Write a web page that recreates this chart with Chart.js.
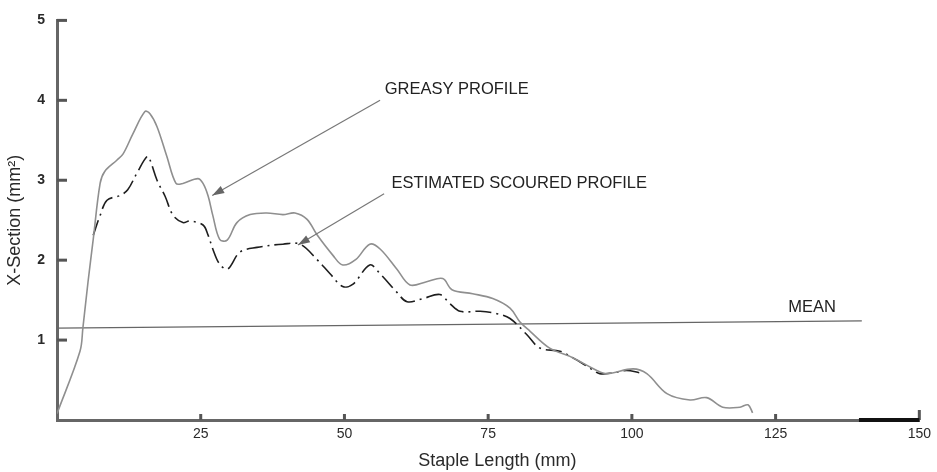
<!DOCTYPE html>
<html><head><meta charset="utf-8">
<script src="https://cdn.jsdelivr.net/npm/chart.js@4/dist/chart.umd.min.js"></script>
<style>html,body{margin:0;padding:0;background:#fff}#wrap{width:937px;height:472px}</style>
</head><body><div id="wrap"><canvas id="c"></canvas></div>
<script>
const greasyX = [0,4.0,4.5,5.4,6.3,7.5,8.3,10.4,11.5,13.2,15.3,16.2,17.4,19.1,20.7,21.9,24.5,25.4,26.3,27.1,28.3,29.6,31.3,33.6,36.5,39.3,41.4,43.5,45.2,48.0,49.7,52.0,54.4,56.2,59.1,61.4,64.3,67.1,68.7,72.3,75.8,78.8,80.5,82.3,85.7,89.7,93.9,95.7,100.2,102.6,106.1,110.1,113.0,115.8,118.8,120.2,121.0];
const greasyY = [0.08,0.86,1.15,1.73,2.26,2.96,3.11,3.25,3.33,3.58,3.86,3.83,3.67,3.30,2.96,2.96,3.02,2.96,2.80,2.56,2.26,2.25,2.47,2.57,2.59,2.57,2.59,2.51,2.32,2.06,1.94,2.01,2.20,2.14,1.89,1.69,1.73,1.77,1.63,1.58,1.52,1.40,1.23,1.11,0.90,0.78,0.62,0.58,0.64,0.58,0.33,0.25,0.28,0.16,0.16,0.19,0.09];
const scouredX = [6.3,7.5,8.7,11.0,12.3,13.9,15.7,16.2,17.4,18.8,20.2,21.9,23.1,25.4,26.3,27.1,28.3,29.7,31.8,34.8,39.3,42.3,45.2,47.5,49.7,51.5,54.4,56.2,59.1,60.9,63.7,66.6,68.3,70.1,73.6,76.5,78.8,81.7,84.0,87.5,89.7,92.7,94.4,96.7,99.1,101.4];
const scouredY = [2.31,2.56,2.75,2.81,2.88,3.09,3.30,3.25,3.00,2.80,2.56,2.47,2.49,2.44,2.31,2.14,1.95,1.89,2.10,2.16,2.20,2.20,2.01,1.83,1.67,1.70,1.94,1.83,1.60,1.48,1.52,1.57,1.46,1.36,1.36,1.33,1.27,1.07,0.90,0.86,0.78,0.65,0.58,0.59,0.62,0.59];
const meanX = [0,140];
const meanY = [1.15,1.24];
const xTicks = [25,50,75,100,125,150];
const yTicks = [1,2,3,4,5];
const labels = {greasy:'GREASY PROFILE', scoured:'ESTIMATED SCOURED PROFILE', mean:'MEAN', xTitle:'Staple Length (mm)'};

const FONT = '"Liberation Sans", Arial, sans-serif';
const toPts = (xs, ys) => xs.map((x,i)=>({x, y: ys[i]}));

const annot = {
  id:'annot',
  afterDatasetsDraw(chart){
    const {ctx, scales:{x,y}} = chart;
    const P = (a,b)=>[x.getPixelForValue(a), y.getPixelForValue(b)];
    ctx.save();
    // inward ticks
    ctx.strokeStyle='#555'; ctx.lineWidth=3;
    yTicks.forEach(v=>{const [px,py]=P(0,v); ctx.beginPath(); ctx.moveTo(px,py); ctx.lineTo(px+10,py); ctx.stroke();});
    xTicks.forEach(v=>{const [px,py]=P(v,0); ctx.beginPath(); ctx.moveTo(px,py); ctx.lineTo(px,py-(v===150?10:6)); ctx.stroke();});
    // dark right end of x axis
    ctx.strokeStyle='#111'; ctx.lineWidth=4;
    let [a1,b1]=P(139.5,0),[a2,b2]=P(150,0);
    ctx.beginPath(); ctx.moveTo(a1,b1); ctx.lineTo(a2,b2); ctx.stroke();
    // x axis title (slightly right of centre, as in the original)
    ctx.fillStyle='#2a2a2a'; ctx.font='18px ' + FONT;
    ctx.textBaseline='middle'; ctx.textAlign='center';
    ctx.fillText(labels.xTitle, P(76.6,0)[0], 461);
    // annotation text
    ctx.fillStyle='#222'; ctx.font='16.5px ' + FONT;
    ctx.textAlign='left';
    let p=P(57.0,4.13); ctx.fillText(labels.greasy,p[0],p[1]);
    p=P(58.2,2.96); ctx.fillText(labels.scoured,p[0],p[1]);
    p=P(127.2,1.41); ctx.fillText(labels.mean,p[0],p[1]);
    // arrows
    const arrow=(x0,y0,x1,y1)=>{
      const [sx,sy]=P(x0,y0),[ex,ey]=P(x1,y1);
      ctx.strokeStyle='#777'; ctx.fillStyle='#666'; ctx.lineWidth=1.2;
      ctx.beginPath(); ctx.moveTo(sx,sy); ctx.lineTo(ex,ey); ctx.stroke();
      const ang=Math.atan2(ey-sy,ex-sx), L=12, W=4;
      ctx.beginPath(); ctx.moveTo(ex,ey);
      ctx.lineTo(ex-L*Math.cos(ang)+W*Math.sin(ang), ey-L*Math.sin(ang)-W*Math.cos(ang));
      ctx.lineTo(ex-L*Math.cos(ang)-W*Math.sin(ang), ey-L*Math.sin(ang)+W*Math.cos(ang));
      ctx.closePath(); ctx.fill();
    };
    arrow(56.2,4.0,27.0,2.81);
    arrow(56.9,2.83,41.9,2.19);
    ctx.restore();
  }
};

new Chart(document.getElementById('c'), {
  type:'scatter',
  data:{datasets:[
    {data:toPts(greasyX,greasyY), showLine:true, borderColor:'#8f8f8f', borderWidth:1.6, pointRadius:0, tension:0.35, fill:false},
    {data:toPts(scouredX,scouredY), showLine:true, borderColor:'#1e1e1e', borderWidth:1.6, borderDash:[16,5,2,5], pointRadius:0, tension:0.35, fill:false},
    {data:toPts(meanX,meanY), showLine:true, borderColor:'#666', borderWidth:1.2, pointRadius:0, fill:false}
  ]},
  options:{
    responsive:true, maintainAspectRatio:false, animation:false,
    layout:{padding:{top:16,right:17,left:4,bottom:0}},
    plugins:{legend:{display:false}, tooltip:{enabled:false}},
    scales:{
      x:{type:'linear', min:0, max:150,
        afterBuildTicks(s){s.ticks=[0,...xTicks].map(v=>({value:v}));},
        afterFit(s){s.height=52;},
        grid:{display:false, drawTicks:false},
        border:{display:true,color:'#666',width:3},
        ticks:{padding:6, color:'#2a2a2a', font:{family:FONT, size:14}, callback:v=>v===0?'':v},
        title:{display:false}
      },
      y:{type:'linear', min:0, max:5,
        afterBuildTicks(s){s.ticks=[0,...yTicks].map(v=>({value:v}));},
        afterFit(s){s.width=53;},
        grid:{display:false, drawTicks:false},
        border:{display:true,color:'#666',width:3},
        ticks:{padding:12, color:'#2a2a2a', font:{family:FONT, size:14, weight:'bold'}, callback:v=>v===0?'':v},
        title:{display:true, text:'X-Section (mm²)', color:'#2a2a2a', font:{family:FONT, size:18}, padding:{top:0,bottom:4}}
      }
    }
  },
  plugins:[annot]
});
</script>
</body></html>
